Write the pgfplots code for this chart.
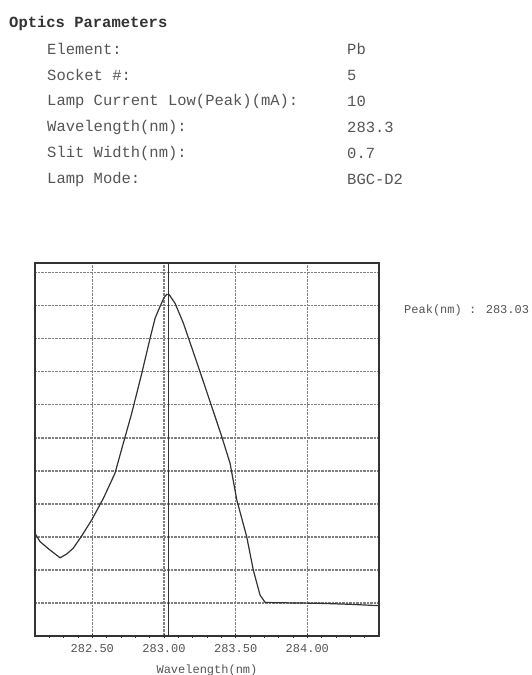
\documentclass[border=0pt]{standalone}
\usepackage{pgfplots}
\pgfplotsset{compat=1.18}
\usepackage{fontspec}
\setmainfont{Liberation Mono}
\setmonofont{Liberation Mono}
\definecolor{txt}{HTML}{555555}
\definecolor{ln}{HTML}{333333}
\definecolor{grd}{HTML}{808080}
\begin{document}
\begin{tikzpicture}
\useasboundingbox (0pt,0pt) rectangle (531pt,-675pt);
\fill[white] (0pt,0pt) rectangle (531pt,-675pt);
% header
\node[anchor=west,inner sep=0pt,text=black!80,font=\fontsize{15.5}{18}\selectfont\bfseries] at (9pt,-23pt) {Optics Parameters};
\begin{scope}[every node/.style={anchor=west,inner sep=0pt,text=txt,font=\fontsize{15.5}{18}\selectfont}]
\node at (47pt,-49pt) {Element:};               \node at (347pt,-49pt) {Pb};
\node at (47pt,-75pt) {Socket \#:};             \node at (347pt,-75pt) {5};
\node at (47pt,-101pt) {Lamp Current Low(Peak)(mA):}; \node at (347pt,-101pt) {10};
\node at (47pt,-127pt) {Wavelength(nm):};       \node at (347pt,-127pt) {283.3};
\node at (47pt,-153pt) {Slit Width(nm):};       \node at (347pt,-153pt) {0.7};
\node at (47pt,-179pt) {Lamp Mode:};            \node at (347pt,-179pt) {BGC-D2};
\end{scope}
\node[anchor=west,inner sep=0pt,text=txt,font=\fontsize{12}{14}\selectfont] at (404pt,-310pt) {Peak(nm) : 283.03};
\begin{axis}[
  at={(35pt,-636pt)}, anchor=south west,
  scale only axis, width=344pt, height=373pt,
  xmin=282.1, xmax=284.5, ymin=0, ymax=11.3,
  xtick={282.5,283,283.5,284},
  xticklabels={282.50,283.00,283.50,284.00},
  minor xtick={282.2,282.3,282.4,282.6,282.7,282.8,282.9,283.1,283.2,283.3,283.4,283.6,283.7,283.8,283.9,284.1,284.2,284.3,284.4},
  ytick={1,2,3,4,5,6,7,8,9,10,11},
  yticklabels={},
  xtick pos=bottom, ytick pos=left,
  tick align=center,
  major tick length=4pt, minor tick length=3pt,
  every tick/.style={ln, line width=0.9pt},
  ytick style={draw=none},
  grid=major,
  major grid style={densely dotted, grd, line width=1.1pt},
  axis line style={ln, line width=1.3pt},
  /pgf/number format/assume math mode=true,
  xticklabel style={font=\fontsize{12}{14}\selectfont, text=txt, yshift=-3pt},
  xlabel={Wavelength(nm)},
  xlabel style={font=\fontsize{12}{14}\selectfont, text=txt, yshift=-5pt},
  clip=false,
]
\addplot[ln, line width=1.2pt] coordinates {
(282.100,3.11) (282.135,2.86) (282.200,2.62) (282.275,2.37) (282.320,2.48) (282.367,2.66)
(282.430,3.06) (282.496,3.52) (282.577,4.17) (282.658,4.93) (282.716,5.84)
(282.775,6.75) (282.845,7.96) (282.903,9.02) (282.938,9.63) (282.972,9.98)
(283.000,10.25) (283.019,10.35) (283.035,10.35) (283.077,10.08) (283.135,9.48)
(283.251,8.01) (283.333,6.95) (283.403,6.04) (283.461,5.23) (283.508,4.12)
(283.577,3.01) (283.623,2.00) (283.670,1.24) (283.705,1.02) (283.763,1.01)
(284.089,0.99) (284.300,0.96) (284.496,0.92)
};
\addplot[ln, line width=1.2pt] coordinates {(283.03,0) (283.03,11.3)};
\end{axis}
\end{tikzpicture}
\end{document}
